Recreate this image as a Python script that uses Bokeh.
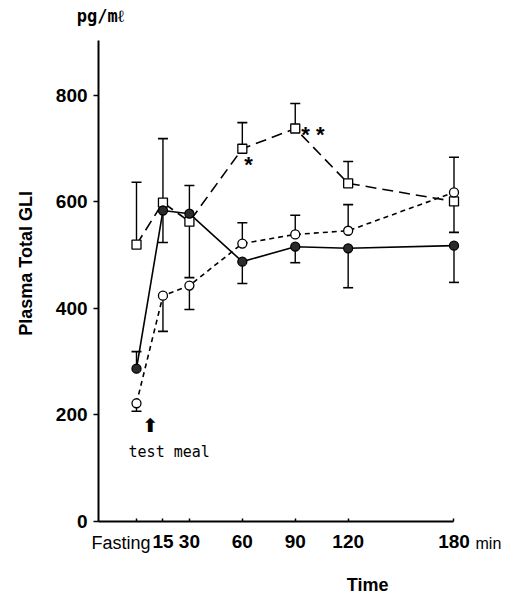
import math
from bokeh.plotting import figure
from bokeh.models import FixedTicker, Label, Range1d
from bokeh.embed import file_html
from bokeh.resources import INLINE

# ---- data ----
times = [0, 15, 30, 60, 90, 120, 180]
tick_labels = {0: "", 15: "15", 30: "30", 60: "60", 90: "90", 120: "120", 180: "180"}
y_ticks = [0, 200, 400, 600, 800]

filled_vals = [287, 584, 578, 488, 516, 513, 518]
filled_err_end = [319, 524, 631, 447, 486, 439, 449]

square_vals = [520, 599, 563, 700, 738, 635, 601]
square_err_end = [637, 719, 458, 749, 785, 676, 543]

open_vals = [222, 424, 443, 522, 539, 546, 618]
open_err_end = [207, 357, 398, 561, 575, 595, 684]

p = figure(frame_width=511, frame_height=595,
           min_border=0,
           x_range=Range1d(-77.1, 212.6), y_range=Range1d(-139.0, 978.4),
           output_backend="svg", toolbar_location=None)
p.grid.visible = False
p.outline_line_color = None
p.background_fill_color = "white"
p.border_fill_color = "white"

TICK_FONT = "Liberation Sans"

# axes (placed at data locations inside the frame)
p.xaxis.fixed_location = 0
p.yaxis.fixed_location = -21.5
p.xaxis.bounds = (-21.5, 180)
p.yaxis.bounds = (0, 903)

for ax in (p.xaxis[0], p.yaxis[0]):
    ax.axis_line_width = 2
    ax.axis_line_color = "black"
    ax.major_tick_line_color = "black"
    ax.major_tick_line_width = 1.5
    ax.minor_tick_line_color = None
    ax.major_label_text_font = TICK_FONT
    ax.major_label_text_font_style = "bold"
    ax.major_label_text_font_size = "19px"
    ax.major_label_text_color = "black"

p.xaxis.ticker = FixedTicker(ticks=times)
p.xaxis.major_label_overrides = tick_labels
p.xaxis.major_tick_in = 3
p.xaxis.major_tick_out = 0
p.xaxis.major_label_standoff = 14

p.yaxis.ticker = FixedTicker(ticks=y_ticks)
p.yaxis.major_tick_in = 0
p.yaxis.major_tick_out = 5
p.yaxis.major_label_standoff = 6

def draw_series(vals, ends, dash):
    p.line(times, vals, line_color="black", line_width=1.6, line_dash=dash)
    p.segment(x0=times, y0=vals, x1=times, y1=ends, line_color="black", line_width=1.4)
    p.scatter(times, ends, marker="dash", size=10, line_color="black", line_width=1.6)

draw_series(filled_vals, filled_err_end, "solid")
draw_series(square_vals, square_err_end, "11 6")
draw_series(open_vals, open_err_end, "5 4")

p.scatter(times, square_vals, marker="square", size=9, fill_color="white",
          line_color="black", line_width=1.3)
p.scatter(times, open_vals, marker="circle", size=9, fill_color="white",
          line_color="black", line_width=1.3)
p.scatter(times, filled_vals, marker="circle", size=9, fill_color="#2b2b2b",
          line_color="black", line_width=1.3)

def lab(text, x, y, size, align="center", baseline="middle", font=TICK_FONT,
        style="normal", angle=0.0):
    p.add_layout(Label(x=x, y=y, text=text, text_font=font,
                       text_font_size=size, text_font_style=style,
                       text_align=align, text_baseline=baseline,
                       text_color="black", angle=angle))

lab("pg/m\u2113", -20.4, 950, "17px", font="DejaVu Sans Mono", style="bold")
lab("Plasma  Total  GLI", -62.9, 494, "18px", angle=math.pi / 2, style="bold")
lab("Time", 131, -120, "18px", style="bold")
lab("min", 199.5, -41, "16px")
lab("Fasting", 7.9, -41, "18px", align="right")
lab("test meal", -4.5, 130, "15px", align="left", font="DejaVu Sans Mono")
lab("\u2b06", 7.9, 182, "19px", font="DejaVu Sans", style="bold")
lab("*", 63.5, 670, "22px", style="bold")
lab("* *", 100, 726, "22px", style="bold")

open("out.html", "w").write(file_html(p, INLINE))
